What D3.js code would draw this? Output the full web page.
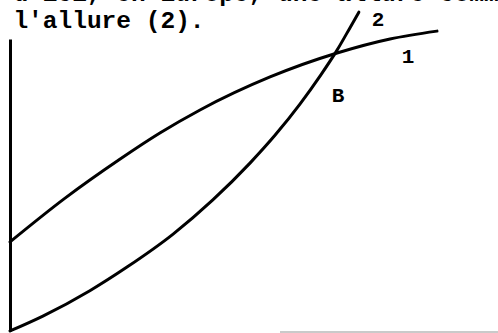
<!DOCTYPE html>
<html>
<head>
<meta charset="utf-8">
<script src="https://cdn.jsdelivr.net/npm/d3@7"></script>
<style>
  html, body { margin: 0; padding: 0; background: #fff; }
  svg { display: block; }
  text { font-family: "Liberation Mono", "DejaVu Sans Mono", monospace; font-weight: bold; fill: #000; }
</style>
</head>
<body>
<svg id="chart" width="498" height="333"></svg>
<script>
// Text lines (top is partly cut off in the reference)
const textLines = ["e d'ici, en Europe, une allure comme", "t l'allure (2)."];

// Curve 1 (concave)
const curve1X = [0, 12.9, 25.8, 35.1, 44.5, 60.9, 76.6, 89.0, 100];
const curve1Y = [30.5, 45.5, 58.9, 67.8, 75.7, 87.0, 95.2, 100.0, 102.7];

// Curve 2 (convex)
const curve2X = [0, 7.7, 18.7, 27.4, 38.2, 47.5, 56.2, 62.1, 67.9, 72.6, 76.6, 79.6, 81.7];
const curve2Y = [0, 5.1, 13.8, 21.9, 33.2, 44.9, 57.5, 67.1, 77.7, 87.3, 96.2, 103.8, 109.2];

// Labels
const labelNames = ["2", "1", "B"];
const labelX = [86.2, 93.2, 76.8];
const labelY = [104.5, 91.8, 78.4];

const svg = d3.select("#chart");
const x = d3.scaleLinear().domain([0, 100]).range([10, 437]);
const y = d3.scaleLinear().domain([0, 100]).range([331, 39]);

// text at top
svg.selectAll("text.line")
  .data(textLines)
  .enter().append("text")
  .attr("class", "line")
  .attr("x", -16)
  .attr("y", (d, i) => 1 + i * 27)
  .style("font-size", "24.5px")
  .text(d => d);

// vertical axis (no ticks)
svg.append("g")
  .attr("transform", `translate(${x(0)},0)`)
  .call(d3.axisLeft(y).tickValues([]).tickSizeOuter(0))
  .call(g => g.select(".domain").attr("stroke", "#000").attr("stroke-width", 3));

// faint bottom edge
svg.append("line")
  .attr("x1", 280).attr("x2", 498)
  .attr("y1", 332).attr("y2", 332)
  .attr("stroke", "#b8b8b8").attr("stroke-width", 1.5);

const line = d3.line()
  .x(d => x(d[0]))
  .y(d => y(d[1]))
  .curve(d3.curveMonotoneX);

const c1 = curve1X.map((v, i) => [v, curve1Y[i]]);
const c2 = curve2X.map((v, i) => [v, curve2Y[i]]);

[c1, c2].forEach(c => {
  svg.append("path")
    .datum(c)
    .attr("d", line)
    .attr("fill", "none")
    .attr("stroke", "#000")
    .attr("stroke-width", 3)
    .attr("stroke-linecap", "round");
});

svg.selectAll("text.lbl")
  .data(labelNames)
  .enter().append("text")
  .attr("class", "lbl")
  .attr("x", (d, i) => x(labelX[i]))
  .attr("y", (d, i) => y(labelY[i]))
  .attr("text-anchor", "middle")
  .style("font-size", "21px")
  .text(d => d);
</script>
</body>
</html>
